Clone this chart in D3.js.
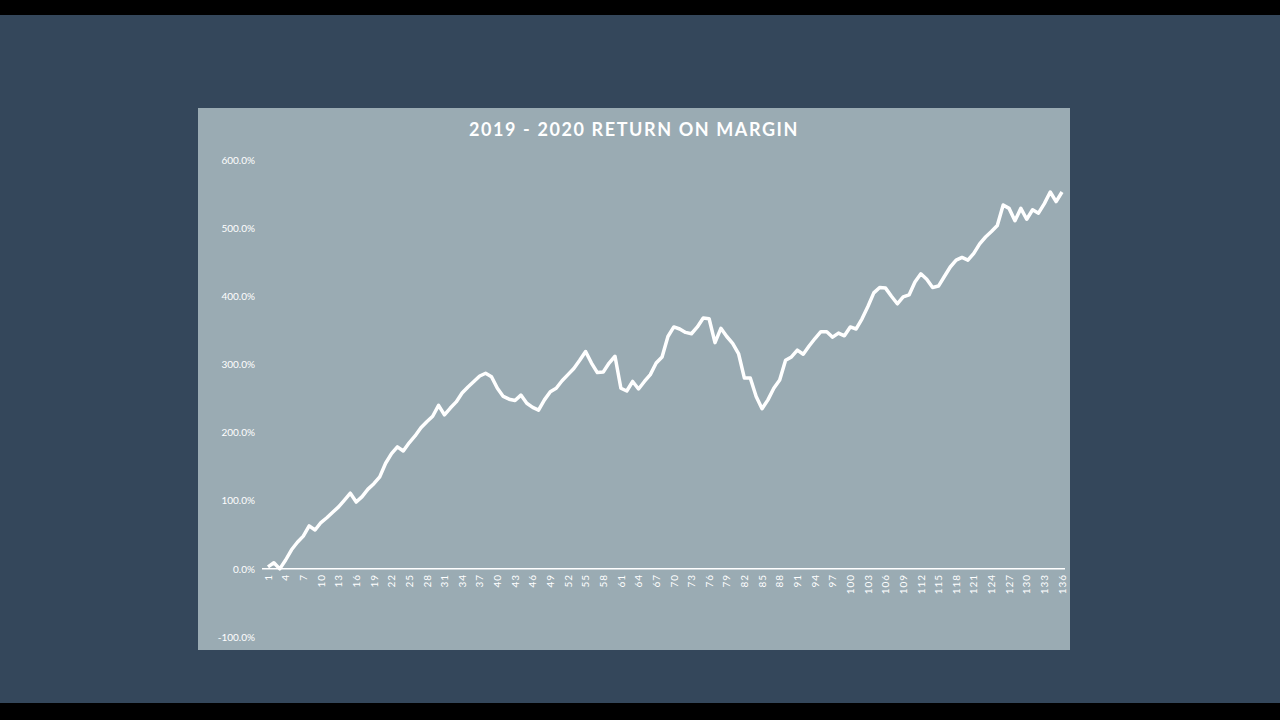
<!DOCTYPE html>
<html><head><meta charset="utf-8">
<script src="https://cdnjs.cloudflare.com/ajax/libs/d3/7.8.5/d3.min.js"></script>
<style>body{margin:0;background:#000;}svg{display:block;}</style>
</head><body>
<svg id="c" width="1280" height="720"></svg>
<script>
const title = "2019 - 2020 RETURN ON MARGIN";
const yTicks = [-100, 0, 100, 200, 300, 400, 500, 600];
const values = [3,9,0,13,28,39,48,63,57,68,75,83,91,101,111,98,106,117,125,135,
155,169,179,173,185,195,207,216,224,240,226,236,245,258,267,275,283,287,282,265,
253,249,247,255,243,237,233,248,260,265,276,285,294,306,319,302,288,289,302,312,
265,261,275,264,275,285,302,311,341,355,352,347,345,355,368,367,332,353,341,331,
316,280,280,253,235,248,265,277,306,311,321,315,327,338,348,348,340,346,342,355,
352,367,385,405,413,412,400,389,399,402,421,433,425,413,415,429,443,453,457,453,
463,477,487,495,504,534,529,511,529,513,527,522,536,553,539,553];
const categories = values.map((d,i)=>i+1);

const svg = d3.select("#c");
svg.append("rect").attr("x",0).attr("y",15).attr("width",1280).attr("height",688).attr("fill","#34475b");
svg.append("rect").attr("x",198).attr("y",108).attr("width",872).attr("height",542).attr("fill","#9aabb3");

const x = d3.scalePoint().domain(categories).range([268,1062]);
const y = d3.scaleLinear().domain([-100,600]).range([637,160]);

svg.append("text").attr("x",634).attr("y",136).attr("text-anchor","middle")
  .attr("fill","#fff").attr("font-family","Lato").attr("font-weight","bold")
  .attr("font-size",18).attr("letter-spacing","1.6px").text(title);

const ya = svg.append("g").attr("transform","translate(255,0)")
  .call(d3.axisLeft(y).tickValues(yTicks).tickSize(0).tickPadding(0).tickFormat(d=>d.toFixed(1)+"%"));
ya.select(".domain").remove();
ya.selectAll("text").attr("fill","#fff").attr("font-family","Lato").attr("font-size",10);

svg.append("line").attr("x1",262).attr("x2",1065).attr("y1",y(0)).attr("y2",y(0))
  .attr("stroke","#fff").attr("stroke-width",1.5);

const xa = svg.append("g").attr("transform",`translate(0,${y(0)})`)
  .call(d3.axisBottom(x).tickValues(categories.filter((d,i)=>i%3===0)).tickSize(0).tickPadding(0));
xa.select(".domain").remove();
xa.selectAll("text").attr("fill","#fff").attr("font-family","Lato").attr("font-size",10)
  .attr("letter-spacing","1px")
  .attr("transform","rotate(-90)").attr("text-anchor","end").attr("dy","0.32em").attr("x",-5).attr("y",0);

svg.append("path").datum(values)
  .attr("d",d3.line().x((d,i)=>x(categories[i])).y(d=>y(d)))
  .attr("fill","none").attr("stroke","#fff").attr("stroke-width",3.5).attr("stroke-linejoin","round");
</script>
</body></html>
